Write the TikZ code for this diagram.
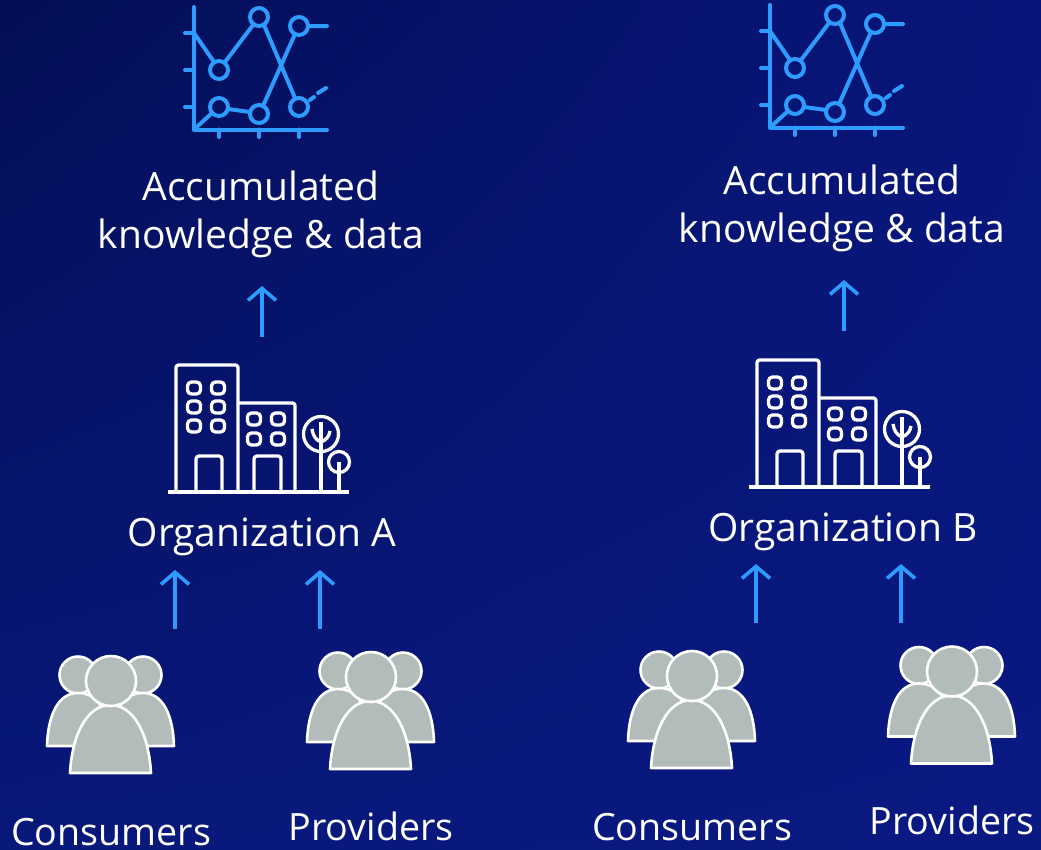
\documentclass[tikz,border=0pt]{standalone}
\usepackage{fontspec}
\setmainfont{Open Sans}
\usetikzlibrary{arrows.meta,shadings}
\definecolor{chartblue}{HTML}{2E9BFF}
\definecolor{personfill}{HTML}{B2BDBB}
\definecolor{bgul}{RGB}{4,14,86}
\definecolor{bgur}{RGB}{8,22,124}
\definecolor{bgll}{RGB}{8,24,122}
\definecolor{bglr}{RGB}{9,25,130}
\tikzset{
  px/.style={x=1pt,y=-1pt},
  lbl/.style={text=white,font=\fontsize{39}{48}\selectfont,align=center,inner sep=0pt,anchor=center},
  lblb/.style={text=white,font=\fontsize{37.6}{48}\selectfont,inner sep=0pt,anchor=base},
  flow/.style={draw=chartblue,line width=3.6pt,-{Straight Barb[length=12pt,width=28pt,line width=3.6pt]}},
  chartline/.style={draw=chartblue,line width=4pt,line cap=round,line join=round},
  chartdot/.style={draw=chartblue,line width=4pt,fill=none},
  bld/.style={draw=white,line width=3.3pt,line join=round},
  person/.style={draw=white,line width=2.6pt,fill=personfill,line join=round}
}
\newcommand{\chartico}[2]{%
\begin{scope}[shift={(#1,#2)}]
  \draw[chartline] (194,7) -- (194,129.5) -- (327,129.5);
  \draw[chartline] (185,33) -- (194,33) (185,70) -- (194,70) (185,107) -- (194,107);
  \draw[chartline] (219,129.5) -- (219,137) (259,129.5) -- (259,137) (299,129.5) -- (299,137);
  \draw[chartline] (194,33) -- (214,62) (225,62) -- (253,25) (264,25) -- (295,98);
  \draw[chartline] (194,129.5) -- (212,113) (228,109) -- (250,112) (263,106) -- (295,34) (308,26) -- (327,26);
  \draw[chartline] (310,100) -- (314,97) (318,93) -- (326,88);
  \foreach \c in {(219,70),(259,17),(299,26),(219,107),(259,114),(299,107)}
    \draw[chartdot] \c circle[radius=9];
\end{scope}}
\newcommand{\bldico}[2]{%
\begin{scope}[shift={(#1,#2)}]
  \draw[bld] (168,492) -- (349,492);
  \draw[bld,rounded corners=2.5pt] (176,492) -- (176,365) -- (238,365) -- (238,492);
  \draw[bld,rounded corners=2.5pt] (238,403) -- (295,403) -- (295,492);
  \foreach \xx in {194,218}\foreach \yy in {388,407,426}
    \draw[bld,rounded corners=4pt] (\xx-6.5,\yy-6) rectangle (\xx+6.5,\yy+6);
  \foreach \xx in {254,278}\foreach \yy in {419,439}
    \draw[bld,rounded corners=4pt] (\xx-6.5,\yy-6) rectangle (\xx+6.5,\yy+6);
  \draw[bld,rounded corners=3pt] (196,492) -- (196,456) -- (222,456) -- (222,492);
  \draw[bld,rounded corners=3pt] (254,492) -- (254,456) -- (281,456) -- (281,492);
  \draw[bld] (321,434) circle[radius=17.5];
  \draw[bld] (321,422) -- (321,492);
  \draw[bld] (312,429) .. controls (313,436) and (316,440) .. (321,442);
  \draw[bld] (330,431) .. controls (329,437) and (326,440) .. (321,442);
  \draw[bld] (339,462) circle[radius=10.5];
  \draw[bld] (339,462) -- (339,492);
\end{scope}}
\newcommand{\peopleico}[2]{%
\begin{scope}[shift={(#1,#2)}]
  \draw[person] (78,675) circle[radius=18.5];
  \draw[person] (143,675) circle[radius=18.5];
  \draw[person] (47,746) .. controls (48,715) and (58,693) .. (78,693) .. controls (95,693) and (108,705) .. (112,746) -- cycle;
  \draw[person] (174,746) .. controls (173,715) and (163,693) .. (143,693) .. controls (126,693) and (113,705) .. (109,746) -- cycle;
  \draw[person] (70,773) .. controls (72,735) and (87,705) .. (110.5,705) .. controls (134,705) and (149,735) .. (151,773) -- cycle;
  \draw[person] (111,681) circle[radius=25];
\end{scope}}
\begin{document}
\begin{tikzpicture}[px]
\useasboundingbox (0,0) rectangle (1041,849);
\shade[upper left=bgul,upper right=bgur,lower left=bgll,lower right=bglr] (0,0) rectangle (1041,849);

\chartico{0}{0}
\chartico{576}{-2}
\bldico{0}{0}
\bldico{581}{-5}
\peopleico{0}{0}
\peopleico{260}{-4}
\peopleico{581}{-5}
\peopleico{841}{-9.5}

\node[lbl] (knowA) at (261,214.5) {Accumulated\\knowledge \& data};
\node[lbl] (knowB) at (842,208.5) {Accumulated\\knowledge \& data};
\node[lbl] (orgA) at (262,537) {Organization A};
\node[lbl] (orgB) at (843,532) {Organization B};
\node[lblb] (consA) at (111,845) {Consumers};
\node[lblb] (provA) at (371,840) {Providers};
\node[lblb] (consB) at (692,840) {Consumers};
\node[lblb] (provB) at (952,834.5) {Providers};

\coordinate (a0) at (262,337); \coordinate (a1) at (262,286);
\coordinate (b0) at (844,331); \coordinate (b1) at (844,280);
\coordinate (c0) at (175,629); \coordinate (c1) at (175,570);
\coordinate (d0) at (320,629); \coordinate (d1) at (320,570);
\coordinate (e0) at (756,623); \coordinate (e1) at (756,564);
\coordinate (f0) at (901,623); \coordinate (f1) at (901,564);
\foreach \p in {a,b,c,d,e,f} \draw[flow] (\p0) -- (\p1);
\end{tikzpicture}
\end{document}
